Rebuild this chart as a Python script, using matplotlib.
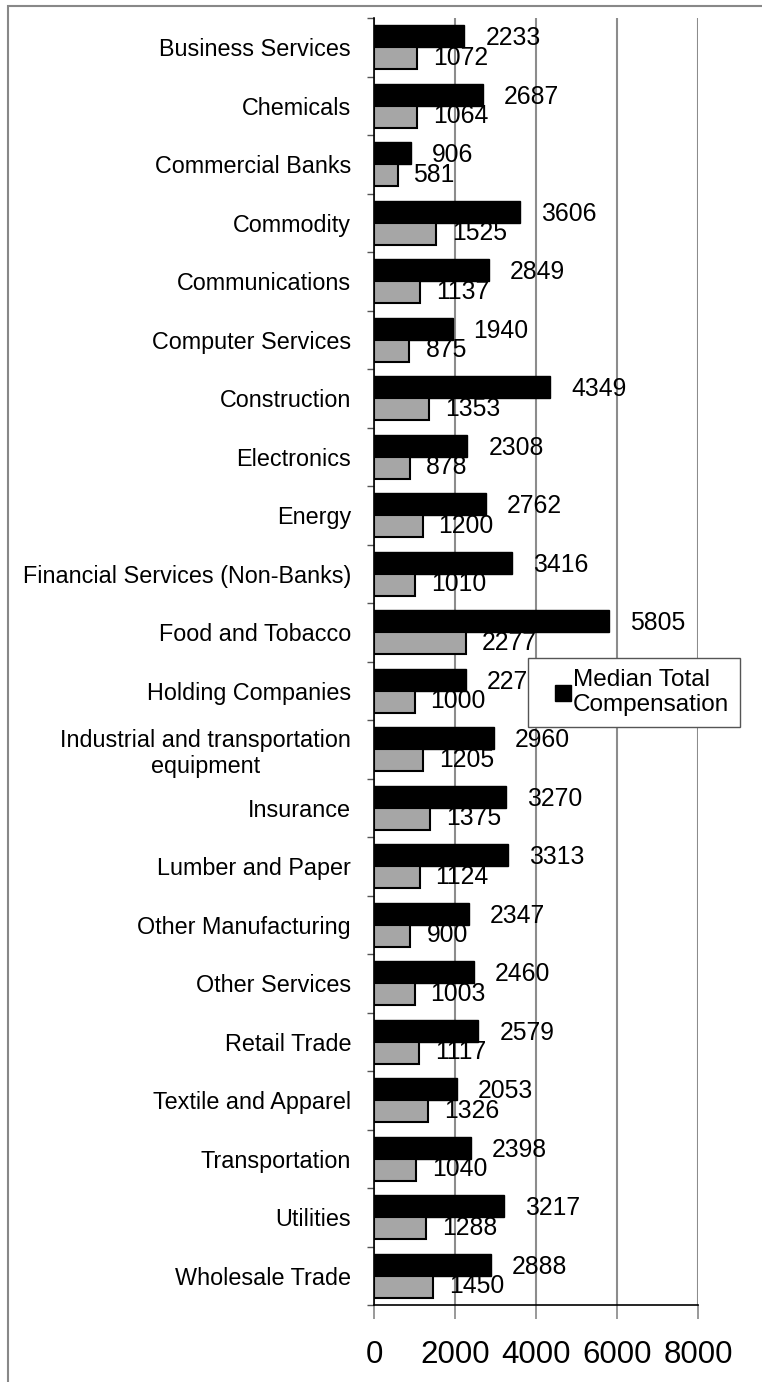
import numpy as np
import matplotlib.pyplot as plt
from matplotlib.patches import Rectangle
from matplotlib.lines import Line2D

plt.rcParams['font.family'] = ['Liberation Sans', 'DejaVu Sans']

industries = [
    'Business Services', 'Chemicals', 'Commercial Banks', 'Commodity',
    'Communications', 'Computer Services', 'Construction', 'Electronics',
    'Energy', 'Financial Services (Non-Banks)', 'Food and Tobacco',
    'Holding Companies', 'Industrial and transportation\nequipment',
    'Insurance', 'Lumber and Paper', 'Other Manufacturing', 'Other Services',
    'Retail Trade', 'Textile and Apparel', 'Transportation', 'Utilities',
    'Wholesale Trade',
]
median_total_comp = [2233, 2687, 906, 3606, 2849, 1940, 4349, 2308, 2762, 3416,
                     5805, 2275, 2960, 3270, 3313, 2347, 2460, 2579, 2053, 2398,
                     3217, 2888]
median_salary = [1072, 1064, 581, 1525, 1137, 875, 1353, 878, 1200, 1010,
                 2277, 1000, 1205, 1375, 1124, 900, 1003, 1117, 1326, 1040,
                 1288, 1450]
x_ticks = [0, 2000, 4000, 6000, 8000]

W, H = 762, 1382
fig = plt.figure(figsize=(W / 100, H / 100), dpi=100)
ax = fig.add_axes([374 / W, 1 - 1305 / H, 324 / W, (1305 - 18) / H])

y = np.arange(len(industries))
bh = 0.38
ax.barh(y - bh / 2, median_total_comp, height=bh, color='black',
        edgecolor='black', linewidth=1, zorder=2)
ax.barh(y + bh / 2, median_salary, height=bh, color='#a6a6a6',
        edgecolor='black', linewidth=1.5, zorder=2)

for i in range(len(industries)):
    ax.annotate(str(median_total_comp[i]), (median_total_comp[i], y[i] - bh / 2),
                xytext=(15, -1.5), textcoords='offset points', va='center',
                ha='left', fontsize=17.8, zorder=3)
    ax.annotate(str(median_salary[i]), (median_salary[i], y[i] + bh / 2),
                xytext=(11.5, 0.5), textcoords='offset points', va='center',
                ha='left', fontsize=17.8, zorder=3)

ax.set_xlim(0, 8000)
ax.set_ylim(len(industries) - 0.5, -0.5)
ax.set_xticks(x_ticks)
ax.set_xticklabels([str(t) for t in x_ticks], fontsize=22.5)
ax.tick_params(axis='x', length=10, width=1.2, color='#888888', pad=15)
ax.set_yticks(y)
ax.set_yticklabels(industries, fontsize=16.8, multialignment='center')
ax.set_yticks(np.arange(len(industries) + 1) - 0.5, minor=True)
ax.tick_params(axis='y', which='major', length=0, pad=16.5)
ax.tick_params(axis='y', which='minor', length=5, width=1, color='#555555')

ax.grid(axis='x', color='#8c8c8c', linewidth=1.5)
ax.set_axisbelow(True)
for side in ['top', 'right']:
    ax.spines[side].set_visible(False)
ax.spines['left'].set_linewidth(1.2)
ax.spines['bottom'].set_linewidth(1.2)

# legend shows only the total compensation series
handle = Line2D([], [], marker='s', color='black', linestyle='none',
                markersize=11)
leg = ax.legend([handle], ['Median Total\nCompensation'], loc='upper left',
                bbox_to_anchor=(528 / W, 1 - 658 / H),
                bbox_transform=fig.transFigure, fontsize=17.5, frameon=True,
                fancybox=False, framealpha=1, borderaxespad=0,
                handlelength=1.94, handletextpad=-0.54, borderpad=0.45)
leg.get_frame().set_edgecolor('#555555')
leg.get_frame().set_linewidth(1)
leg.set_zorder(5)

# outer chart frame
fig.add_artist(Rectangle((8 / W, -0.1), 1.2, 1.1 - 6 / H,
                         transform=fig.transFigure, fill=False,
                         edgecolor='#888888', linewidth=1.5))

fig.savefig('out.png', dpi=100)
